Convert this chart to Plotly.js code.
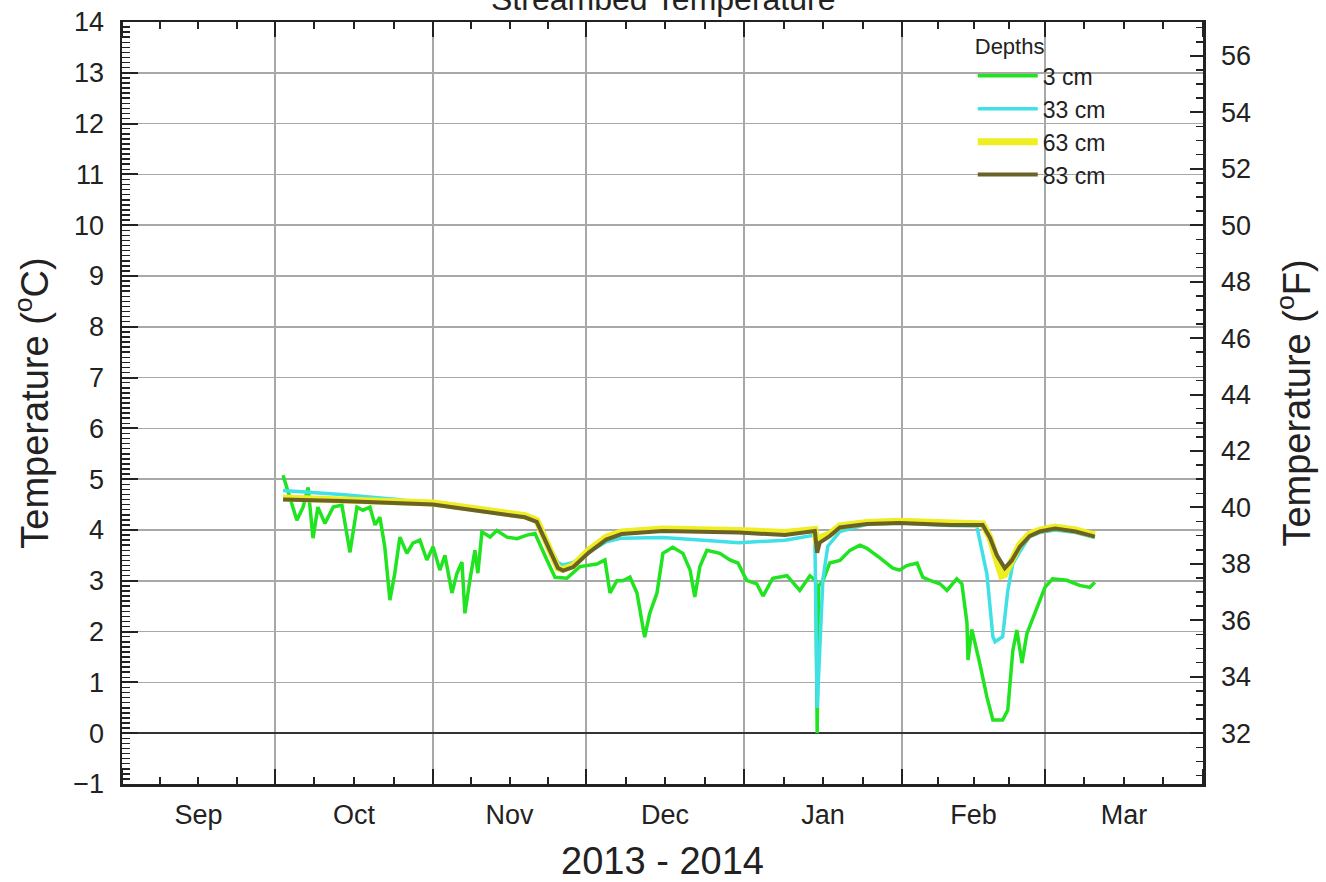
<!DOCTYPE html>
<html>
<head>
<meta charset="utf-8">
<script src="https://cdn.plot.ly/plotly-3.0.1.min.js"></script>
<style>html,body{margin:0;padding:0;background:#fff;}#chart{width:1326px;height:882px;}</style>
</head>
<body>
<div id="chart"></div>
<script>
const chartTitle = 'Streambed Temperature';
const depthLabels = ['3 cm', '33 cm', '63 cm', '83 cm'];
const depthColors = ['#1fe41f', '#3fe0e6', '#eeee22', '#6b6326'];

const date3 = ['2013-10-02 14:00','2013-10-03 13:00','2013-10-05 07:00','2013-10-06 12:00','2013-10-07 12:00','2013-10-08 11:00','2013-10-09 10:00','2013-10-10 19:00','2013-10-12 10:00','2013-10-14 03:00','2013-10-15 17:00','2013-10-17 02:00','2013-10-18 06:00','2013-10-19 15:00','2013-10-20 15:00','2013-10-21 14:00','2013-10-22 13:00','2013-10-23 13:00','2013-10-24 12:00','2013-10-25 12:00','2013-10-26 21:00','2013-10-28 01:00','2013-10-29 10:00','2013-10-30 19:00','2013-11-01 00:00','2013-11-02 08:00','2013-11-03 08:00','2013-11-04 17:00','2013-11-05 17:00','2013-11-06 16:00','2013-11-07 06:00','2013-11-08 05:00','2013-11-09 05:00','2013-11-09 19:00','2013-11-10 14:00','2013-11-12 05:00','2013-11-13 12:00','2013-11-15 12:00','2013-11-17 11:00','2013-11-19 10:00','2013-11-21 00:00','2013-11-23 08:00','2013-11-24 22:00','2013-11-27 06:00','2013-11-29 19:00','2013-12-03 03:00','2013-12-04 17:00','2013-12-05 17:00','2013-12-07 01:00','2013-12-08 05:00','2013-12-09 15:00','2013-12-11 00:00','2013-12-12 12:00','2013-12-13 12:00','2013-12-14 22:00','2013-12-16 02:00','2013-12-18 00:00','2013-12-20 00:00','2013-12-21 10:00','2013-12-22 08:00','2013-12-23 08:00','2013-12-24 17:00','2013-12-27 06:00','2013-12-29 05:00','2013-12-30 19:00','2014-01-01 12:00','2014-01-03 12:00','2014-01-04 17:00','2014-01-06 15:00','2014-01-09 10:00','2014-01-11 22:00','2014-01-13 22:00','2014-01-15 02:00','2014-01-15 08:00','2014-01-15 15:00','2014-01-16 11:00','2014-01-17 19:00','2014-01-19 19:00','2014-01-21 18:00','2014-01-23 17:00','2014-01-25 02:00','2014-01-27 15:00','2014-01-30 04:00','2014-01-31 12:00','2014-02-01 22:00','2014-02-03 22:00','2014-02-05 01:00','2014-02-06 10:00','2014-02-08 10:00','2014-02-09 19:00','2014-02-11 17:00','2014-02-12 17:00','2014-02-13 17:00','2014-02-13 22:00','2014-02-14 16:00','2014-02-16 05:00','2014-02-17 15:00','2014-02-18 19:00','2014-02-20 17:00','2014-02-21 17:00','2014-02-22 17:00','2014-02-23 12:00','2014-02-24 12:00','2014-02-25 11:00','2014-02-27 10:00','2014-03-01 00:00','2014-03-02 12:00','2014-03-05 07:00','2014-03-07 19:00','2014-03-09 19:00','2014-03-10 19:00'];
const temp3 = [5.08,4.78,4.19,4.45,4.84,3.84,4.45,4.13,4.45,4.49,3.56,4.45,4.39,4.45,4.10,4.25,3.66,2.62,3.15,3.86,3.54,3.74,3.80,3.41,3.67,3.21,3.50,2.76,3.15,3.37,2.36,3.00,3.60,3.15,3.96,3.86,3.99,3.86,3.83,3.90,3.93,3.41,3.07,3.05,3.28,3.33,3.41,2.76,3.00,3.00,3.07,2.76,1.89,2.36,2.76,3.54,3.66,3.54,3.21,2.68,3.28,3.60,3.54,3.41,3.35,3.01,2.94,2.70,3.05,3.10,2.81,3.10,3.00,0.00,2.90,3.00,3.35,3.40,3.60,3.70,3.64,3.45,3.25,3.21,3.30,3.35,3.07,3.01,2.94,2.81,3.04,2.94,2.17,1.44,2.04,1.38,0.71,0.26,0.26,0.45,1.63,2.03,1.38,1.96,2.48,2.87,3.04,3.01,2.91,2.87,2.97];

const date33 = ['2013-10-02 14:00','2013-10-14 00:00','2013-10-25 00:00','2013-11-01 00:00','2013-11-10 00:00','2013-11-19 00:00','2013-11-21 08:00','2013-11-23 12:00','2013-11-25 12:00','2013-11-26 12:00','2013-11-28 12:00','2013-12-01 12:00','2013-12-04 23:00','2013-12-08 00:00','2013-12-16 00:00','2013-12-24 00:00','2013-12-31 00:00','2014-01-09 00:00','2014-01-14 21:00','2014-01-15 08:00','2014-01-16 11:00','2014-01-17 10:00','2014-01-19 19:00','2014-01-25 02:00','2014-01-31 12:00','2014-02-10 09:00','2014-02-15 15:00','2014-02-17 15:00','2014-02-18 19:00','2014-02-19 05:00','2014-02-20 17:00','2014-02-21 17:00','2014-02-22 17:00','2014-02-24 16:00','2014-02-26 00:00','2014-02-28 00:00','2014-03-03 00:00','2014-03-07 00:00','2014-03-10 19:00'];
const temp33 = [4.78,4.70,4.60,4.52,4.40,4.26,4.17,3.72,3.36,3.31,3.36,3.56,3.77,3.84,3.85,3.80,3.75,3.80,3.90,0.50,3.03,3.68,3.97,4.11,4.14,4.09,4.08,3.13,1.90,1.80,1.90,2.80,3.34,3.67,3.87,3.95,4.00,3.95,3.85];

const date63 = ['2013-10-02 14:00','2013-10-14 00:00','2013-11-01 00:00','2013-11-10 00:00','2013-11-19 00:00','2013-11-21 08:00','2013-11-23 12:00','2013-11-25 12:00','2013-11-26 12:00','2013-11-28 12:00','2013-12-01 12:00','2013-12-04 23:00','2013-12-08 00:00','2013-12-16 00:00','2013-12-31 00:00','2014-01-09 00:00','2014-01-14 21:00','2014-01-15 08:00','2014-01-15 20:00','2014-01-17 19:00','2014-01-19 19:00','2014-01-25 02:00','2014-01-31 12:00','2014-02-10 09:00','2014-02-16 19:00','2014-02-18 05:00','2014-02-19 14:00','2014-02-20 12:00','2014-02-21 03:00','2014-02-22 12:00','2014-02-24 02:00','2014-02-26 00:00','2014-02-28 00:00','2014-03-03 00:00','2014-03-07 00:00','2014-03-10 19:00'];
const temp63 = [4.63,4.60,4.53,4.41,4.28,4.19,3.70,3.25,3.22,3.30,3.60,3.86,3.96,4.02,3.99,3.95,4.01,3.70,3.85,3.92,4.08,4.15,4.17,4.13,4.12,3.85,3.40,3.10,3.12,3.40,3.72,3.92,4.00,4.06,4.00,3.90];

const date83 = ['2013-10-02 14:00','2013-10-14 00:00','2013-11-01 00:00','2013-11-10 00:00','2013-11-19 00:00','2013-11-21 08:00','2013-11-23 12:00','2013-11-25 12:00','2013-11-26 12:00','2013-11-28 12:00','2013-12-01 12:00','2013-12-04 23:00','2013-12-08 00:00','2013-12-16 00:00','2013-12-31 00:00','2014-01-09 00:00','2014-01-14 21:00','2014-01-15 08:00','2014-01-15 20:00','2014-01-17 19:00','2014-01-19 19:00','2014-01-25 02:00','2014-01-31 12:00','2014-02-10 09:00','2014-02-16 19:00','2014-02-18 05:00','2014-02-19 14:00','2014-02-21 03:00','2014-02-22 12:00','2014-02-24 02:00','2014-02-26 00:00','2014-02-28 00:00','2014-03-03 00:00','2014-03-07 00:00','2014-03-10 19:00'];
const temp83 = [4.60,4.57,4.50,4.38,4.25,4.16,3.67,3.25,3.20,3.27,3.55,3.81,3.92,3.98,3.95,3.90,3.98,3.55,3.75,3.88,4.05,4.12,4.14,4.10,4.10,3.85,3.50,3.25,3.40,3.67,3.88,3.97,4.03,3.97,3.87];

const monthStarts = ['2013-09-01','2013-10-01','2013-11-01','2013-12-01','2014-01-01','2014-02-01','2014-03-01','2014-04-01'];

// quarter-month minor tick positions (axis decoration)
const minorX = [];
for (let i = 0; i < monthStarts.length - 1; i++) {
  const a = new Date(monthStarts[i] + 'T00:00:00Z').getTime();
  const b = new Date(monthStarts[i + 1] + 'T00:00:00Z').getTime();
  for (let k = 1; k < 4; k++) {
    const t = new Date(a + (b - a) * k / 4);
    minorX.push(t.toISOString().slice(0, 16).replace('T', ' '));
  }
}

const series = [[date3, temp3], [date33, temp33], [date63, temp63], [date83, temp83]];
const widths = [3.5, 3.5, 7, 4];
const traces = series.map((s, i) => ({
  type: 'scatter', mode: 'lines', x: s[0], y: s[1], name: depthLabels[i],
  legendgroup: 'g' + i,
  line: {color: depthColors[i], width: widths[i]},
  xaxis: 'x', yaxis: 'y'
}));
traces.push({type: 'scatter', mode: 'lines', x: [], y: [], xaxis: 'x', yaxis: 'y2', showlegend: false, hoverinfo: 'skip'});

const axisCol = '#222';
const layout = {
  width: 1326, height: 882,
  margin: {l: 122, r: 123, t: 22, b: 98},
  paper_bgcolor: '#ffffff', plot_bgcolor: '#ffffff',
  font: {family: 'Liberation Sans, Arial, sans-serif', color: axisCol},
  showlegend: true,
  legend: {
    x: 0.787, xanchor: 'left', y: 0.995, yanchor: 'top',
    bgcolor: 'rgba(0,0,0,0)', borderwidth: 0,
    font: {size: 23, color: axisCol},
    title: {text: 'Depths', font: {size: 22, color: axisCol}},
    traceorder: 'grouped', tracegroupgap: 0, itemwidth: 60
  },
  xaxis: {
    type: 'date', range: ['2013-09-01', '2014-04-01'],
    tick0: '2013-09-01', dtick: 'M1', tickformat: '%b', ticklabelmode: 'period',
    ticks: 'inside', ticklen: 15, tickwidth: 2, tickcolor: axisCol,
    showline: true, linewidth: 2.5, linecolor: axisCol, mirror: 'ticks',
    showgrid: true, gridcolor: '#a8a8a8', gridwidth: 1.5, zeroline: false,
    tickfont: {size: 27, color: axisCol}, ticklabelstandoff: 5,
    minor: {tickmode: 'array', tickvals: minorX, ticks: 'inside', ticklen: 7, tickwidth: 2, tickcolor: axisCol, showgrid: false},
    title: {text: '2013 - 2014', font: {size: 38, color: axisCol}, standoff: 21}
  },
  yaxis: {
    range: [-1, 14], tick0: 0, dtick: 1,
    ticks: 'inside', ticklen: 16, tickwidth: 2, tickcolor: axisCol,
    showline: true, linewidth: 2.5, linecolor: axisCol, mirror: true,
    showgrid: true, gridcolor: '#a8a8a8', gridwidth: 1.5,
    zeroline: true, zerolinecolor: '#333', zerolinewidth: 2.5,
    tickfont: {size: 27, color: axisCol}, ticklabelstandoff: 10,
    minor: {tick0: 0, dtick: 0.1, ticks: 'inside', ticklen: 8, tickwidth: 1.5, tickcolor: axisCol, showgrid: false},
    title: {text: 'Temperature (<sup>o</sup>C)', font: {size: 38, color: axisCol}, standoff: 13}
  },
  yaxis2: {
    overlaying: 'y', side: 'right', anchor: 'x',
    range: [30.2, 57.2], tick0: 32, dtick: 2,
    ticks: 'inside', ticklen: 13, tickwidth: 2, tickcolor: axisCol,
    showline: true, linewidth: 2.5, linecolor: axisCol,
    showgrid: false, zeroline: false,
    tickfont: {size: 27, color: axisCol}, ticklabelstandoff: 10,
    minor: {tick0: 32, dtick: 0.5, ticks: 'inside', ticklen: 7, tickwidth: 1.5, tickcolor: axisCol, showgrid: false},
    title: {text: 'Temperature (<sup>o</sup>F)', font: {size: 38, color: axisCol}, standoff: 34}
  },
  annotations: [{
    text: chartTitle, xref: 'paper', yref: 'paper', x: 0.5, y: 1.03, xanchor: 'center', yanchor: 'middle',
    showarrow: false, font: {size: 32, color: axisCol}
  }]
};

Plotly.newPlot('chart', traces, layout, {staticPlot: true, displayModeBar: false});
</script>
</body>
</html>
